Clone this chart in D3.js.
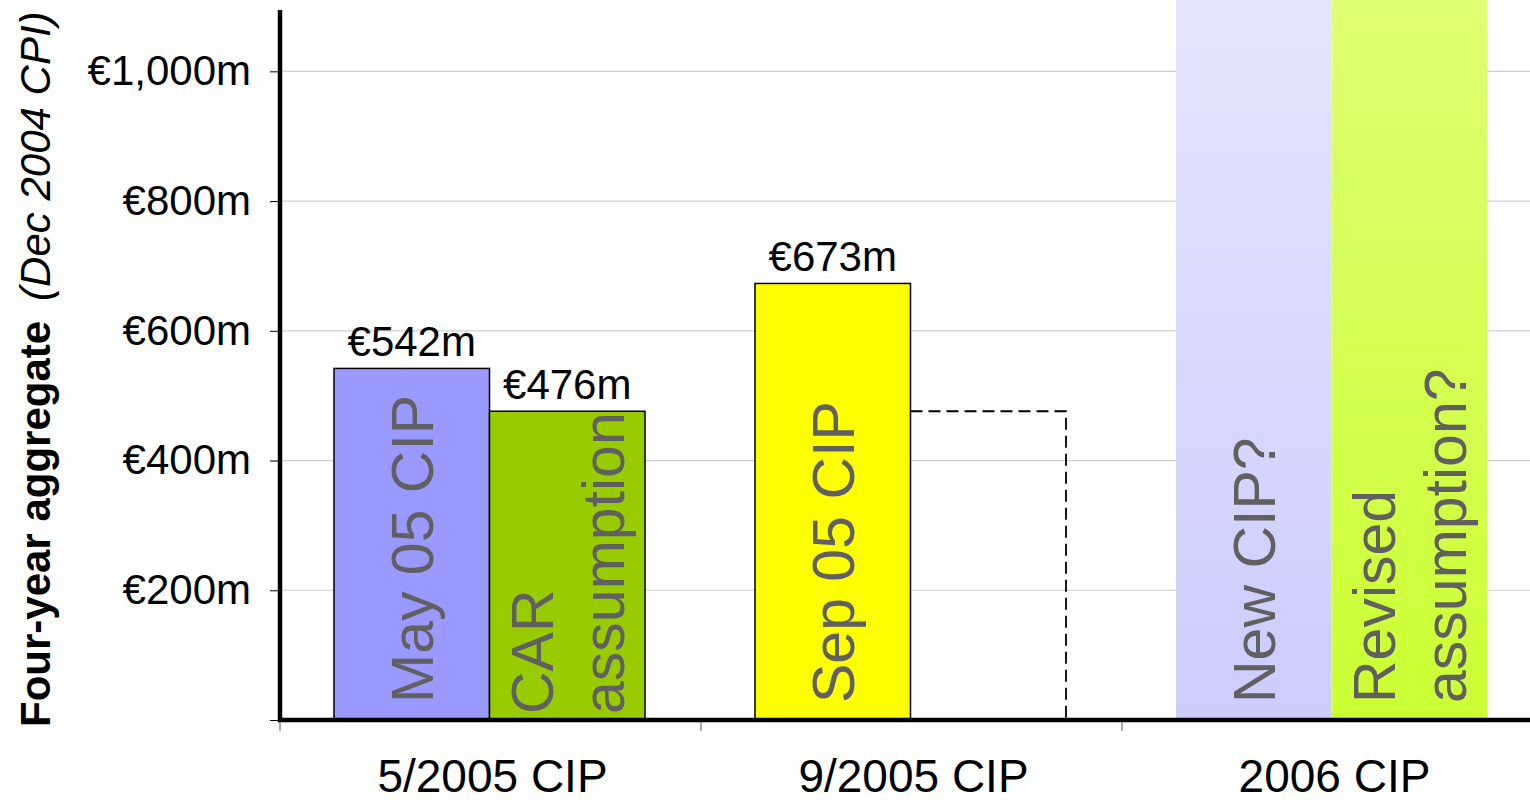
<!DOCTYPE html>
<html>
<head>
<meta charset="utf-8">
<script src="https://cdn.jsdelivr.net/npm/d3@7"></script>
<style>
  body { margin: 0; background: #fff; }
  text { font-family: "Liberation Sans", Arial, sans-serif; }
</style>
</head>
<body>
<div class="chart"></div>
<script>
// data
const categories = ['5/2005 CIP', '9/2005 CIP', '2006 CIP'];
const cipValues = [542, 673, null];          // null = not yet known
const assumptionValues = [476, 476, null];   // 9/2005 carries 5/2005 assumption
const cipLabels = [['May 05 CIP'], ['Sep 05 CIP'], ['New CIP?']];
const assumptionLabels = [['CAR', 'assumption'], [], ['Revised', 'assumption?']];
const cipValueLabels = ['€542m', '€673m', ''];
const assumptionValueLabels = ['€476m', '', ''];
const yTicks = [0, 200, 400, 600, 800, 1000];
const yTickLabels = ['', '€200m', '€400m', '€600m', '€800m', '€1,000m'];

const width = 1530, height = 803;
const margin = { top: 0, left: 280, bottom: 83 };
const plotBottom = height - margin.bottom;

const svg = d3.select('.chart').append('svg')
  .attr('width', width)
  .attr('height', height);

const defs = svg.append('defs');
const gradCip = defs.append('linearGradient').attr('id', 'gradCip')
  .attr('x1', 0).attr('y1', 0).attr('x2', 0).attr('y2', 1);
gradCip.append('stop').attr('offset', '0%').attr('stop-color', '#e5e5fc');
gradCip.append('stop').attr('offset', '100%').attr('stop-color', '#ccccff');
const gradAss = defs.append('linearGradient').attr('id', 'gradAss')
  .attr('x1', 0).attr('y1', 0).attr('x2', 0).attr('y2', 1);
gradAss.append('stop').attr('offset', '0%').attr('stop-color', '#ddff72');
gradAss.append('stop').attr('offset', '100%').attr('stop-color', '#ccff33');

const yMax = 1110;
const y = d3.scaleLinear().domain([0, yMax]).range([plotBottom, margin.top]);

const x = d3.scaleBand().domain(categories)
  .range([margin.left, margin.left + 421 * 3])
  .paddingInner(0).paddingOuter(0);

const xSub = d3.scaleBand().domain(['cip', 'assumption'])
  .range([54, 365]).paddingInner(0).paddingOuter(0);

// gridlines
svg.append('g')
  .selectAll('line')
  .data(yTicks.filter(d => d > 0))
  .enter().append('line')
  .attr('x1', margin.left).attr('x2', width)
  .attr('y1', d => y(d)).attr('y2', d => y(d))
  .attr('stroke', '#cfcfcf')
  .attr('stroke-width', 1.2);

// bars
const bars = [];
categories.forEach((c, i) => {
  bars.push({ cat: c, key: 'cip', value: cipValues[i], labels: cipLabels[i], valueLabel: cipValueLabels[i], i });
  bars.push({ cat: c, key: 'assumption', value: assumptionValues[i], labels: assumptionLabels[i], valueLabel: assumptionValueLabels[i], i });
});

const barG = svg.append('g');

bars.forEach(d => {
  const bx = x(d.cat) + xSub(d.key);
  const bw = xSub.bandwidth();
  const projected = d.value === null;
  const carried = !projected && d.key === 'assumption' && d.i === 1;
  const top = projected ? y(yMax) : y(d.value);
  const g = barG.append('g');

  if (projected) {
    g.append('rect')
      .attr('x', bx).attr('y', top)
      .attr('width', bw).attr('height', plotBottom - top)
      .attr('fill', d.key === 'cip' ? 'url(#gradCip)' : 'url(#gradAss)');
  } else if (carried) {
    g.append('path')
      .attr('d', `M${bx},${top} H${bx + bw} V${plotBottom}`)
      .attr('fill', 'none')
      .attr('stroke', '#000')
      .attr('stroke-width', 1.8)
      .attr('stroke-dasharray', '12,6');
  } else {
    g.append('rect')
      .attr('x', bx).attr('y', top)
      .attr('width', bw).attr('height', plotBottom - top)
      .attr('fill', d.key === 'cip' ? (d.i === 0 ? '#9999ff' : '#ffff00') : '#99cc00')
      .attr('stroke', '#000')
      .attr('stroke-width', 1.5);
  }

  if (d.valueLabel) {
    g.append('text')
      .attr('x', bx + bw / 2)
      .attr('y', top - 12)
      .attr('text-anchor', 'middle')
      .attr('font-size', 42)
      .attr('fill', '#000')
      .text(d.valueLabel);
  }

  // rotated labels inside bars
  const n = d.labels.length;
  if (n) {
    const fs = 59;
    const cx = bx + bw / 2;
    const texts = d.labels.map((t, k) => {
      const base = cx + 0.36 * fs + (k - (n - 1) / 2) * 71;
      return g.append('text')
        .attr('transform', `translate(${base},0) rotate(-90)`)
        .attr('font-size', fs)
        .attr('fill', '#606060')
        .text(t);
    });
    const maxLen = d3.max(texts, t => t.node().getComputedTextLength());
    const pad = Math.max(6, Math.min(17, (plotBottom - top) - maxLen - 2));
    texts.forEach((t, k) => {
      const base = cx + 0.36 * fs + (k - (n - 1) / 2) * 71;
      t.attr('transform', `translate(${base},${plotBottom - pad}) rotate(-90)`);
    });
  }
});

// y axis
const yAxis = d3.axisLeft(y)
  .tickValues(yTicks)
  .tickSize(10)
  .tickPadding(19)
  .tickFormat((d, i) => yTickLabels[i]);

const yAxisGroup = svg.append('g')
  .attr('transform', `translate(${margin.left},0)`)
  .call(yAxis);
yAxisGroup.select('.domain').remove();
yAxisGroup.selectAll('text')
  .attr('font-size', 42)
  .attr('font-family', '"Liberation Sans", Arial, sans-serif')
  .attr('fill', '#000');
yAxisGroup.selectAll('.tick line').attr('stroke', '#000');

svg.append('line')
  .attr('x1', margin.left).attr('x2', margin.left)
  .attr('y1', 10).attr('y2', plotBottom + 2)
  .attr('stroke', '#000')
  .attr('stroke-width', 4.5);

// x axis
const xAxisGroup = svg.append('g')
  .attr('transform', `translate(0,${plotBottom})`);

xAxisGroup.selectAll('line.tick')
  .data(categories)
  .enter().append('line')
  .attr('class', 'tick')
  .attr('x1', d => x(d)).attr('x2', d => x(d))
  .attr('y1', 2).attr('y2', 11)
  .attr('stroke', '#555')
  .attr('stroke-width', 1);

xAxisGroup.append('line')
  .attr('x1', margin.left - 2).attr('x2', width)
  .attr('y1', 0).attr('y2', 0)
  .attr('stroke', '#000')
  .attr('stroke-width', 4.5);

xAxisGroup.selectAll('text')
  .data(categories)
  .enter().append('text')
  .attr('x', d => x(d) + x.bandwidth() / 2 + 2)
  .attr('y', 72)
  .attr('text-anchor', 'middle')
  .attr('font-size', 46)
  .attr('fill', '#000')
  .text(d => d);

// y axis title
const title = svg.append('text')
  .attr('transform', `translate(50,727) rotate(-90)`)
  .attr('font-size', 42)
  .attr('fill', '#000');
title.append('tspan').attr('font-weight', 'bold').text('Four-year aggregate');
title.append('tspan').attr('dx', 20).attr('font-style', 'italic').text('(Dec 2004 CPI)');
</script>
</body>
</html>
